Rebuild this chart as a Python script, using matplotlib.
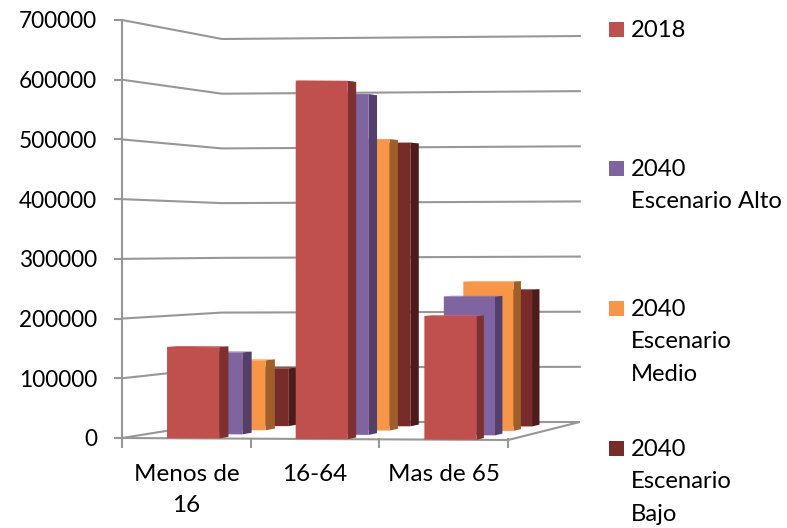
import matplotlib
matplotlib.use("Agg")
import matplotlib.pyplot as plt
from matplotlib.patches import Polygon, Rectangle

plt.rcParams['font.family'] = ['Lato', 'DejaVu Sans']

categories = ['Menos de\n16', '16-64', 'Mas de 65']
series_names = ['2018', '2040 Escenario Alto', '2040 Escenario Medio', '2040 Escenario Bajo']
values_2018 = [153000, 600000, 207000]
values_alto = [140000, 582000, 237000]
values_medio = [122000, 508000, 260000]
values_bajo = [103000, 505000, 243000]
y_ticks = [0, 100000, 200000, 300000, 400000, 500000, 600000, 700000]
legend_lines = [['2018'], ['2040', 'Escenario Alto'], ['2040', 'Escenario', 'Medio'], ['2040', 'Escenario', 'Bajo']]

front_colors = ['#C0504D', '#8064A2', '#F79646', '#772C2A']
side_colors = ['#7E302E', '#523F6C', '#9E5F2B', '#4C1B1A']
top_colors = ['#CC6461', '#8F76AE', '#F9A764', '#85403E']
grid_color = '#979797'

W, H = 787, 528
fig = plt.figure(figsize=(W / 100, H / 100), dpi=100)
# the front plane of the 3D box: x in categories, y in people
ax = fig.add_axes([122 / W, 1 - 438 / H, (508 - 122) / W, (438 - 20) / H])
ax.set_xlim(0, 3)
ax.set_ylim(0, 700000)

px_x = (508 - 122) / 3  # pixels per category at the front
px_y = (438 - 20) / 700000  # pixels per person at the front


# fake perspective, d=0 is the front of the box and d=1 the back wall
def project(u, d, v):
    x = (100 * d + u * (px_x - 9.4 * d)) / px_x
    y_px = 16 * d + v * (px_y - 5.0e-5 * d)
    y_px += 3 * (v / 700000) * (u / 3) * d  # back wall leans a little
    y_px -= 2 * (u / 3) * (1 - d)  # floor edge drops to the right
    return x, y_px / px_y


def poly(points, **kw):
    ax.add_patch(Polygon(points, closed=True, clip_on=False, **kw))


# gridlines along side wall and back wall
for v in y_ticks[1:]:
    pts = [project(0, 0, v), project(0, 1, v), project(3, 1, v)]
    ax.plot(*zip(*pts), color=grid_color, lw=1.5, clip_on=False, zorder=1)

# floor
floor = [project(0, 0, 0), project(0, 1, 0), project(3, 1, 0), project(3, 0, 0)]
poly(floor, facecolor='white', edgecolor=grid_color, lw=1.5, zorder=1.5)

# bars, back series first so the front ones cover them
all_values = [values_2018, values_alto, values_medio, values_bajo]
depths = [0.0, 0.25, 0.5, 0.75]
bar_depth = 0.1
z = 2
for s in [3, 2, 1, 0]:
    d = depths[s]
    for c, v in enumerate(all_values[s]):
        left, right = c + 0.35, c + 0.755
        d2 = d + bar_depth
        poly([project(left, d, v), project(right, d, v), project(right, d2, v), project(left, d2, v)],
             facecolor=top_colors[s], edgecolor='none', zorder=z)
        poly([project(right, d, 0), project(right, d2, 0), project(right, d2, v), project(right, d, v)],
             facecolor=side_colors[s], edgecolor='none', zorder=z)
        poly([project(left, d, 0), project(right, d, 0), project(right, d, v), project(left, d, v)],
             facecolor=front_colors[s], edgecolor='none', zorder=z)
    z += 1

for name in ['top', 'right', 'bottom']:
    ax.spines[name].set_visible(False)
ax.spines['left'].set_color(grid_color)
ax.spines['left'].set_linewidth(1.5)

ax.set_yticks(y_ticks)
ax.set_yticklabels([str(v) for v in y_ticks])
ax.tick_params(axis='y', length=6, width=1.5, color=grid_color, labelsize=16.3, pad=12, labelcolor='black')
ax.set_xticks([0, 1, 2, 3])
ax.set_xticklabels([])
ax.tick_params(axis='x', which='major', length=7, width=1.5, color=grid_color)
ax.set_xticks([0.5, 1.5, 2.5], minor=True)
ax.set_xticklabels(categories, minor=True, fontsize=17.5, linespacing=1.55)
ax.tick_params(axis='x', which='minor', length=0, pad=19)

# legend, laid out by hand because the entries sit at equal steps
legend_top = [22, 161, 301, 441]
line_step = 32.5
for s, lines in enumerate(legend_lines):
    y0 = legend_top[s]
    fig.add_artist(Rectangle((609 / W, 1 - (y0 + 15) / H), 15 / W, 15 / H, transform=fig.transFigure,
                             facecolor=front_colors[s], edgecolor='none'))
    for i, line in enumerate(lines):
        fig.text(631 / W, 1 - (y0 + 8.5 + i * line_step) / H, line, fontsize=17.2, va='center', ha='left')

fig.savefig('out.png', dpi=100, facecolor='white')
